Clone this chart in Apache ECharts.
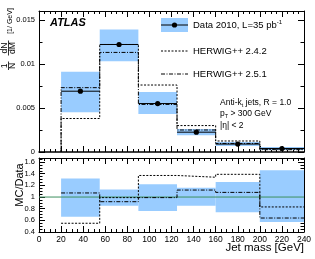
<!DOCTYPE html>
<html><head><meta charset="utf-8">
<script src="https://cdn.jsdelivr.net/npm/echarts@6/dist/echarts.min.js"></script>
<style>html,body{margin:0;padding:0;background:#fff}#c{width:315px;height:259px}</style>
</head><body><div id="c"></div>
<script>
// ---- data ----
const binEdges   = [20, 55, 90, 125, 160, 200, 240];
const dataValues = [0.0069, 0.0122, 0.0055, 0.00225, 0.0009, 0.0004];
const dataBandLo = [0.0045, 0.0103, 0.0043, 0.0019, 0.00067, 0.00023];
const dataBandHi = [0.0091, 0.0139, 0.0068, 0.0026, 0.00113, 0.00058];
const herwig242  = [0.0038, 0.0122, 0.0076, 0.0030, 0.00125, 0.00033];
const herwig251  = [0.0073, 0.0113, 0.0054, 0.0025, 0.00097, 0.00026];
const ratioBandLo = [0.66, 0.85, 0.76, 0.85, 0.74, 0.57];
const ratioBandHi = [1.32, 1.13, 1.22, 1.16, 1.26, 1.46];
const ratio242    = [0.55, 0.99, 1.37, 1.34, 1.39, 0.83];
const ratio251    = [1.07, 0.92, 0.99, 1.12, 1.08, 0.64];
const xTicks = [0, 20, 40, 60, 80, 100, 120, 140, 160, 180, 200, 220, 240];

const FONT = 'Liberation Sans, Arial, Helvetica, sans-serif';
const BLUE = '#99ccff';

function bandRows(lo, hi) {
  return lo.map((v, i) => [binEdges[i], binEdges[i + 1], v, hi[i]]);
}
function stepPoints(vals, dropToZero) {
  const pts = [];
  if (dropToZero) pts.push([binEdges[0], 0]);
  vals.forEach((v, i) => { pts.push([binEdges[i], v]); pts.push([binEdges[i + 1], v]); });
  return pts;
}
function bandRender(params, api) {
  const a = api.coord([api.value(0), api.value(3)]);
  const b = api.coord([api.value(1), api.value(2)]);
  return { type: 'rect', shape: { x: a[0], y: a[1], width: b[0] - a[0], height: b[1] - a[1] },
           style: { fill: BLUE } };
}
function dataRender(params, api) {
  const a = api.coord([api.value(0), api.value(2)]);
  const b = api.coord([api.value(1), api.value(2)]);
  const c = api.coord([(api.value(0) + api.value(1)) / 2, api.value(2)]);
  return { type: 'group', children: [
    { type: 'line', shape: { x1: a[0], y1: a[1], x2: b[0], y2: b[1] }, style: { stroke: '#000', lineWidth: 1 } },
    { type: 'circle', shape: { cx: c[0], cy: c[1], r: 2.6 }, style: { fill: '#000' } }
  ]};
}

const tick = { show: true, inside: true, length: 6, lineStyle: { color: '#000', width: 1 } };
const minor = (n, len) => ({ show: true, splitNumber: n, length: len, lineStyle: { color: '#000', width: 1 } });
const line = (w) => ({ show: true, onZero: false, lineStyle: { color: '#000', width: w || 1 } });

function xAxis(grid, pos, labels) {
  return { type: 'value', gridIndex: grid, position: pos, min: 0, max: 240, interval: 20,
    axisLine: line(pos === 'bottom' && grid === 0 ? 1.5 : 1), axisTick: tick, minorTick: minor(4, 3),
    splitLine: { show: false },
    axisLabel: labels ? { show: true, fontFamily: FONT, fontSize: 8.5, color: '#000', margin: 3 } : { show: false } };
}
function yAxis(grid, pos, min, max, interval, nMinor, labels) {
  return { type: 'value', gridIndex: grid, position: pos, min: min, max: max, interval: interval,
    axisLine: line(1), axisTick: tick, minorTick: minor(nMinor, 3.5),
    splitLine: { show: false },
    axisLabel: labels ? { show: true, fontFamily: FONT, fontSize: 7.5, color: '#000', margin: 4, showMaxLabel: false } : { show: false } };
}

const chart = echarts.init(document.getElementById('c'), null, { renderer: 'canvas' });
chart.setOption({
  animation: false,
  backgroundColor: '#fff',
  grid: [
    { left: 39, right: 11, top: 11, height: 141 },
    { left: 39, right: 11, top: 158, height: 74 }
  ],
  xAxis: [ xAxis(0, 'bottom', false), xAxis(0, 'top', false), xAxis(1, 'bottom', true), xAxis(1, 'top', false) ],
  yAxis: [
    yAxis(0, 'left', 0, 0.016, 0.005, 2, true), yAxis(0, 'right', 0, 0.016, 0.005, 2, false),
    yAxis(1, 'left', 0.4, 1.67, 0.2, 4, true), yAxis(1, 'right', 0.4, 1.67, 0.2, 4, false)
  ],
  series: [
    { type: 'custom', xAxisIndex: 0, yAxisIndex: 0, data: bandRows(dataBandLo, dataBandHi),
      renderItem: bandRender, encode: { x: [0, 1], y: [2, 3] }, z: 1 },
    { type: 'line', xAxisIndex: 0, yAxisIndex: 0, data: stepPoints(herwig242, true), symbol: 'none',
      lineStyle: { color: '#000', width: 1, type: [2, 1.5] }, z: 3 },
    { type: 'line', xAxisIndex: 0, yAxisIndex: 0, data: stepPoints(herwig251, true), symbol: 'none',
      lineStyle: { color: '#000', width: 1, type: [4, 1.5, 1, 1.5] }, z: 3 },
    { type: 'custom', xAxisIndex: 0, yAxisIndex: 0,
      data: dataValues.map((v, i) => [binEdges[i], binEdges[i + 1], v]),
      renderItem: dataRender, encode: { x: [0, 1], y: 2 }, z: 4 },

    { type: 'custom', xAxisIndex: 2, yAxisIndex: 2, data: bandRows(ratioBandLo, ratioBandHi),
      renderItem: bandRender, encode: { x: [0, 1], y: [2, 3] }, z: 1 },
    { type: 'line', xAxisIndex: 2, yAxisIndex: 2, data: [[0, 1], [240, 1]], symbol: 'none',
      lineStyle: { color: '#3d8f5f', width: 1 }, z: 2 },
    { type: 'line', xAxisIndex: 2, yAxisIndex: 2, data: stepPoints(ratio242, false), symbol: 'none',
      lineStyle: { color: '#000', width: 1, type: [2, 1.5] }, z: 3 },
    { type: 'line', xAxisIndex: 2, yAxisIndex: 2, data: stepPoints(ratio251, false), symbol: 'none',
      lineStyle: { color: '#000', width: 1, type: [4, 1.5, 1, 1.5] }, z: 3 }
  ],
  graphic: [
    // ATLAS label
    { type: 'text', x: 50, y: 23, style: { text: 'ATLAS', font: 'italic bold 11px ' + FONT, fill: '#000', verticalAlign: 'middle' } },
    // legend
    { type: 'rect', shape: { x: 161, y: 18, width: 27, height: 14 }, style: { fill: BLUE } },
    { type: 'line', shape: { x1: 161, y1: 25, x2: 188, y2: 25 }, style: { stroke: '#000', lineWidth: 1 } },
    { type: 'circle', shape: { cx: 174.5, cy: 25, r: 2.6 }, style: { fill: '#000' } },
    { type: 'text', x: 193, y: 25, style: { text: '{a|Data 2010, L=35 pb}{s|-1}', verticalAlign: 'middle', fill: '#000',
        rich: { a: { fontFamily: FONT, fontSize: 9.5, lineHeight: 12 }, s: { fontFamily: FONT, fontSize: 6, lineHeight: 7, verticalAlign: 'top' } } } },
    { type: 'line', shape: { x1: 161, y1: 51, x2: 188, y2: 51 }, style: { stroke: '#000', lineWidth: 1, lineDash: [2, 1.5] } },
    { type: 'text', x: 193, y: 51, style: { text: 'HERWIG++ 2.4.2', font: '9.5px ' + FONT, fill: '#000', verticalAlign: 'middle' } },
    { type: 'line', shape: { x1: 161, y1: 74, x2: 188, y2: 74 }, style: { stroke: '#000', lineWidth: 1, lineDash: [4, 1.5, 1, 1.5] } },
    { type: 'text', x: 193, y: 74, style: { text: 'HERWIG++ 2.5.1', font: '9.5px ' + FONT, fill: '#000', verticalAlign: 'middle' } },
    // selection text
    { type: 'text', x: 220, y: 103, style: { text: '{n|Anti-k}{b|t}{n| jets, R = 1.0}', verticalAlign: 'middle', fill: '#000',
        rich: { n: { fontFamily: FONT, fontSize: 8.5, lineHeight: 11 }, b: { fontFamily: FONT, fontSize: 5.5, lineHeight: 7, verticalAlign: 'bottom' } } } },
    { type: 'text', x: 220, y: 114, style: { text: '{n|p}{b|T}{n| > 300 GeV}', verticalAlign: 'middle', fill: '#000',
        rich: { n: { fontFamily: FONT, fontSize: 8.5, lineHeight: 11 }, b: { fontFamily: FONT, fontSize: 5.5, lineHeight: 7, verticalAlign: 'bottom' } } } },
    { type: 'text', x: 220, y: 126, style: { text: '|η| < 2', font: '8.5px ' + FONT, fill: '#000', verticalAlign: 'middle' } },
    // y title top (rotated fraction)
    { type: 'group', x: 8.5, y: 71, rotation: Math.PI / 2, children: [
      { type: 'text', x: 5, y: -4.3, style: { text: '1', font: '8.5px ' + FONT, fill: '#000', align: 'center', verticalAlign: 'middle' } },
      { type: 'line', shape: { x1: 1, y1: 0, x2: 9.5, y2: 0 }, style: { stroke: '#000', lineWidth: 0.8 } },
      { type: 'text', x: 5, y: 4.5, style: { text: 'N', font: '8.5px ' + FONT, fill: '#000', align: 'center', verticalAlign: 'middle' } },
      { type: 'text', x: 23, y: -4.3, style: { text: 'dN', font: '8.5px ' + FONT, fill: '#000', align: 'center', verticalAlign: 'middle' } },
      { type: 'line', shape: { x1: 15.5, y1: 0, x2: 30.5, y2: 0 }, style: { stroke: '#000', lineWidth: 0.8 } },
      { type: 'text', x: 23, y: 4.5, style: { text: 'dM', font: '8.5px ' + FONT, fill: '#000', align: 'center', verticalAlign: 'middle' } },
      { type: 'text', x: 50, y: 1.5, style: { text: '[1/ GeV]', font: '7px ' + FONT, fill: '#000', align: 'center', verticalAlign: 'middle' } }
    ]},
    // ratio y title
    { type: 'text', x: 20, y: 185, rotation: Math.PI / 2,
      style: { text: 'MC/Data', font: '11px ' + FONT, fill: '#000', align: 'center', verticalAlign: 'middle' } },
    // x title
    { type: 'text', x: 304, y: 248, style: { text: 'Jet mass [GeV]', font: '11.5px ' + FONT, fill: '#000', align: 'right', verticalAlign: 'middle' } }
  ]
});
</script>
</body></html>
